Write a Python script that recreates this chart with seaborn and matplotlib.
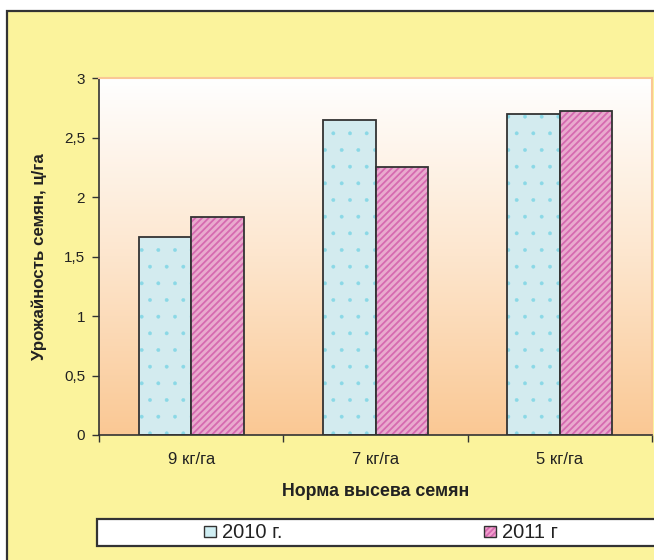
import numpy as np
import pandas as pd
import matplotlib
matplotlib.use("Agg")
import matplotlib.pyplot as plt
from matplotlib.patches import Rectangle, Patch
from matplotlib.colors import LinearSegmentedColormap, to_rgba
import seaborn as sns

# данные
normy = ['9 кг/га', '7 кг/га', '5 кг/га']
urozh_2010 = [1.66, 2.65, 2.70]
urozh_2011 = [1.83, 2.25, 2.72]
goda = ['2010 г.', '2011 г']
y_ticks = [0, 0.5, 1, 1.5, 2, 2.5, 3]

df = pd.DataFrame({
    'norma': normy * 2,
    'urozh': urozh_2010 + urozh_2011,
    'god': [goda[0]] * 3 + [goda[1]] * 3,
})

sns.set_style('white')
plt.rcParams['font.family'] = ['Liberation Sans', 'DejaVu Sans']
plt.rcParams['hatch.linewidth'] = 1.3

W, H = 654, 560
fig = plt.figure(figsize=(W / 100, H / 100), dpi=100, facecolor='white')

# жёлтая рамка диаграммы
fig.patches.append(Rectangle((7 / W, -0.05), 1.2, 1 - 11 / H + 0.05, transform=fig.transFigure,
                             facecolor='#FBF39C', edgecolor='#333333', linewidth=1.6, zorder=-2))
# рамка легенды
fig.patches.append(Rectangle((97 / W, 1 - 546 / H), 1.2, 27 / H, transform=fig.transFigure,
                             facecolor='white', edgecolor='#333333', linewidth=1.6, zorder=-1))

ax = fig.add_axes([99 / W, 1 - 435 / H, (652 - 99) / W, (435 - 78) / H])
ax.set_facecolor('none')

# градиентный фон
grad = np.linspace(0, 1, 256).reshape(-1, 1)
cmap = LinearSegmentedColormap.from_list('g', ['#FFFFFF', '#FDE6CE', '#FAC894'])
ax.imshow(grad, extent=[0, 1, 0, 1], transform=ax.transAxes, aspect='auto', cmap=cmap, zorder=0)

c2010, c2011 = '#CFEEF3', '#F3A0CF'
sns.barplot(data=df, x='norma', y='urozh', hue='god', palette=[c2010, c2011],
            width=0.57, edgecolor='#333333', linewidth=1.3, legend=False, ax=ax, zorder=2)

hatches = ['.', '/////']
hatch_cols = ['#8AD8E6', '#D66AB0']
hatch_lw = [0.3, 1.3]
for cont, h, hc, hl in zip(ax.containers, hatches, hatch_cols, hatch_lw):
    for p in cont:
        p.set_hatch(h)
        p._hatch_color = to_rgba(hc)
        if hasattr(p, 'set_hatch_linewidth'):
            p.set_hatch_linewidth(hl)

ax.set_xlim(-0.5, 2.5)
ax.set_ylim(0, 3)
ax.set_yticks(y_ticks)
ax.set_yticklabels([str(int(v)) if v == int(v) else str(v).replace('.', ',') for v in y_ticks])
ax.set_xticks([-0.5, 0.5, 1.5, 2.5], minor=True)
ax.tick_params(axis='x', which='major', length=0, pad=12, labelsize=12, labelcolor='#222222')
ax.tick_params(axis='x', which='minor', length=5, width=1, color='#333333', direction='out', bottom=True)
ax.tick_params(axis='y', length=5, width=1, color='#333333', direction='out', left=True, pad=5,
               labelsize=11, labelcolor='#222222')

for s in ['left', 'bottom']:
    ax.spines[s].set_color('#333333')
    ax.spines[s].set_linewidth(1.2)
for s in ['top', 'right']:
    ax.spines[s].set_visible(True)
    ax.spines[s].set_color('#FAC796')
    ax.spines[s].set_linewidth(1.5)

ax.set_xlabel('Норма высева семян', fontsize=12.8, fontweight='bold', color='#222222', labelpad=12)
ax.set_ylabel('Урожайность семян, ц/га', fontsize=12.2, fontweight='bold', color='#222222', labelpad=12)

handles = [Patch(facecolor=c2010, edgecolor='#333333', linewidth=1),
           Patch(facecolor=c2011, edgecolor='#333333', linewidth=1, hatch='//////')]
leg = fig.legend(handles, goda, loc='center', bbox_to_anchor=(381 / W, 1 - 533 / H), ncol=2,
                 frameon=False, fontsize=14.5, handlelength=0.6, handleheight=0.5,
                 handletextpad=0.3, columnspacing=10.0)
leg.legend_handles[1]._hatch_color = to_rgba('#D66AB0')
for t in leg.get_texts():
    t.set_color('#222222')

fig.savefig('out.png', dpi=100, facecolor='white')
